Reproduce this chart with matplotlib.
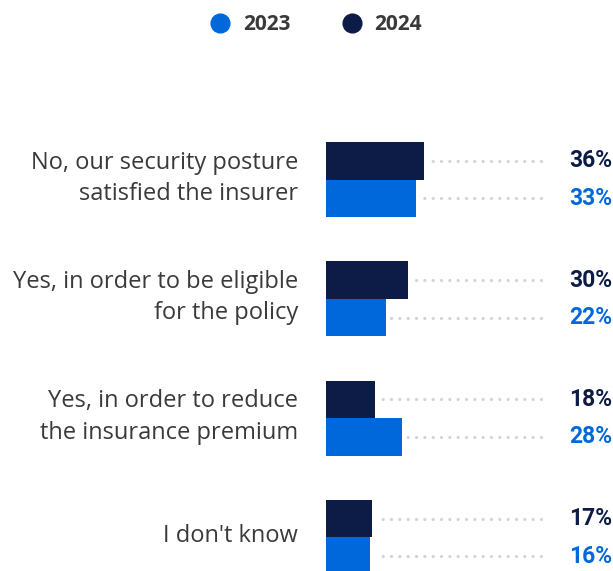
import matplotlib
matplotlib.use("Agg")
import matplotlib.pyplot as plt
from matplotlib.transforms import blended_transform_factory
from matplotlib.lines import Line2D

categories = [
    "No, our security posture\nsatisfied the insurer",
    "Yes, in order to be eligible\nfor the policy",
    "Yes, in order to reduce\nthe insurance premium",
    "I don't know",
]
values_2024 = [36, 30, 18, 17]
values_2023 = [33, 22, 28, 16]
series_names = ["2023", "2024"]

NAVY = "#0d1c46"
BLUE = "#0068da"
DOT = "#d4d4d4"
TXT = "#3a3a3a"

W, H = 613, 571
fig = plt.figure(figsize=(W / 100, H / 100), dpi=100)

ax_left, ax_right = 326, 613
ax_top, ax_bottom = 100, 571
ax = fig.add_axes([ax_left / W, 1 - ax_bottom / H, (ax_right - ax_left) / W, (ax_bottom - ax_top) / H])

px_per_unit = 2.72
group_px = 119.3
xmax = (ax_right - ax_left) / px_per_unit
top_data = -(179.5 - ax_top) / group_px
bottom_data = (ax_bottom - 179.5) / group_px
ax.set_xlim(0, xmax)
ax.set_ylim(bottom_data, top_data)
ax.axis("off")

h = 37.5 / group_px
ys = list(range(len(categories)))
y24 = [y - h / 2 for y in ys]
y23 = [y + h / 2 for y in ys]

ax.barh(y24, values_2024, height=h, color=NAVY, zorder=3)
ax.barh(y23, values_2023, height=h, color=BLUE, zorder=3)

dot_end = (541 - ax_left) / px_per_unit
gap = 5 / px_per_unit
lw = 2.3
spacing_pt = 8.3 * 0.72
for yy, v in zip(y24 + y23, values_2024 + values_2023):
    ax.plot([dot_end, v + gap], [yy, yy], linestyle=(0, (0.01, spacing_pt / lw)), color=DOT,
            linewidth=lw, dash_capstyle="round", solid_capstyle="round", zorder=1)

trans = blended_transform_factory(fig.transFigure, ax.transData)
for yy, v in zip(y24, values_2024):
    ax.text(612 / W, yy, f"{v}%", transform=trans, ha="right", va="center",
            fontsize=16.5, fontweight="bold", color=NAVY, family="Roboto")
for yy, v in zip(y23, values_2023):
    ax.text(612 / W, yy, f"{v}%", transform=trans, ha="right", va="center",
            fontsize=16.5, fontweight="bold", color=BLUE, family="Roboto")

for yy, cat in zip(ys, categories):
    ax.text(298 / W, yy - 0.01, cat, transform=trans, ha="right", va="center",
            fontsize=17, color=TXT, family="Open Sans", linespacing=1.4)

for cx, tx, col, name in [(220, 243, BLUE, series_names[0]), (352, 374, NAVY, series_names[1])]:
    fig.add_artist(Line2D([cx / W], [1 - 23 / H], marker="o", markersize=13.5,
                          color=col, linestyle="none", transform=fig.transFigure))
    fig.text(tx / W, 1 - 24 / H, name, ha="left", va="center", fontsize=15,
             fontweight="bold", color=TXT, family="Open Sans")

fig.savefig("out.png", dpi=100)
